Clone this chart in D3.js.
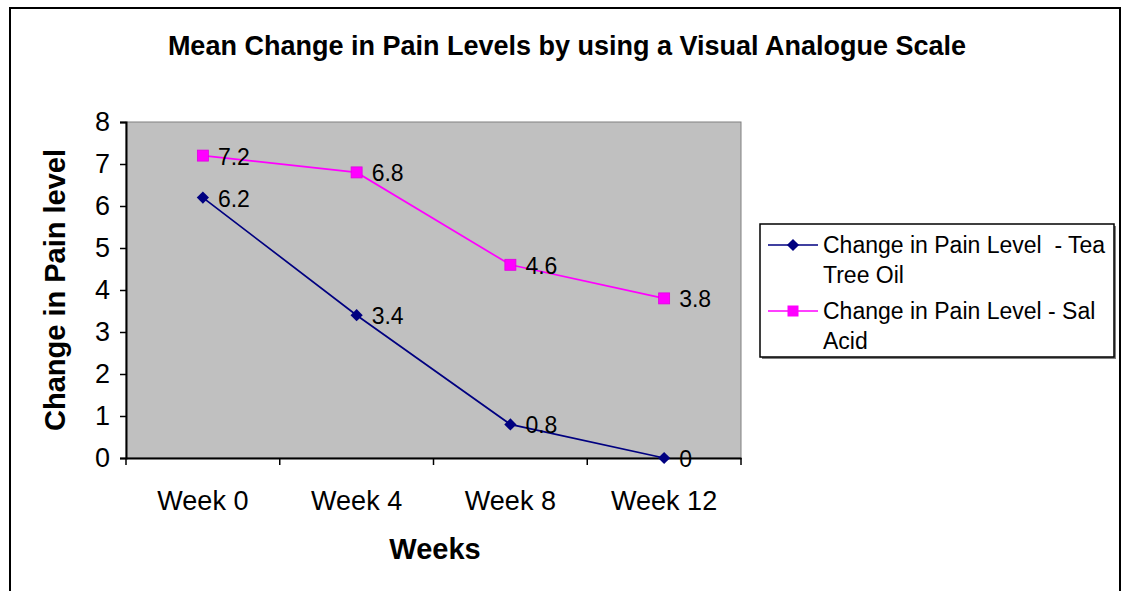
<!DOCTYPE html>
<head>
  <meta charset="UTF-8">
  <title>pain</title>
  <style>
  body{ margin:0; background:#fff; }
  svg{ display:block; font-family: "Liberation Sans", Arial, sans-serif; }
  </style>
</head>
<body>
  <script src="https://cdn.jsdelivr.net/npm/d3@7"></script>
  <script type="text/javascript">
  var weeks = ['Week 0', 'Week 4', 'Week 8', 'Week 12'];
  var teaTree = [6.2, 3.4, 0.8, 0];
  var salAcid = [7.2, 6.8, 4.6, 3.8];
  var yTicks = [0, 1, 2, 3, 4, 5, 6, 7, 8];
  var seriesNames = ['Change in Pain Level  - Tea Tree Oil', 'Change in Pain Level - Sal Acid'];

  var width = 1124, height = 591;
  var svg = d3.select('body').append('svg')
    .attr('width', width)
    .attr('height', height);

  // chart frame
  svg.append('rect')
    .attr('x', 10).attr('y', 8)
    .attr('width', 1110).attr('height', 600)
    .attr('fill', '#fff').attr('stroke', '#000').attr('stroke-width', 2);

  var plot = {left: 126, right: 741, top: 122, bottom: 458};

  var x = d3.scaleBand().domain(weeks).range([plot.left, plot.right]);
  var y = d3.scaleLinear().domain([0, 8]).range([plot.bottom, plot.top]);

  svg.append('rect')
    .attr('x', plot.left).attr('y', plot.top)
    .attr('width', plot.right - plot.left).attr('height', plot.bottom - plot.top)
    .attr('fill', '#c0c0c0').attr('stroke', '#808080').attr('stroke-width', 1);

  // axes
  var yAxis = svg.append('g')
    .attr('transform', 'translate(' + plot.left + ',0)')
    .call(d3.axisLeft(y).tickValues(yTicks).tickSize(6).tickPadding(10).tickFormat(d3.format('d')));
  yAxis.select('.domain').attr('stroke', '#000').attr('stroke-width', 2);
  yAxis.selectAll('.tick line').attr('stroke', '#000').attr('stroke-width', 1.5);
  yAxis.selectAll('text').attr('font-size', 27).attr('fill', '#000');

  var xAxis = svg.append('g')
    .attr('transform', 'translate(0,' + plot.bottom + ')')
    .call(d3.axisBottom(x).tickSize(0).tickPadding(33));
  xAxis.select('.domain').attr('stroke', '#000').attr('stroke-width', 2);
  xAxis.selectAll('text').attr('font-size', 27).attr('fill', '#000');

  // category boundary ticks
  svg.selectAll('.xtick')
    .data(d3.range(weeks.length + 1))
    .enter().append('line')
    .attr('x1', function(i){ return plot.left + i * x.step(); })
    .attr('x2', function(i){ return plot.left + i * x.step(); })
    .attr('y1', plot.bottom)
    .attr('y2', plot.bottom + 7)
    .attr('stroke', '#000').attr('stroke-width', 1.5);

  var line = d3.line()
    .x(function(d, i){ return x(weeks[i]) + x.bandwidth() / 2; })
    .y(function(d){ return y(d); });

  // sal acid
  svg.append('path').datum(salAcid)
    .attr('d', line).attr('fill', 'none')
    .attr('stroke', '#ff00ff').attr('stroke-width', 1.7);
  svg.selectAll('.sq').data(salAcid).enter().append('rect')
    .attr('x', function(d, i){ return x(weeks[i]) + x.bandwidth() / 2 - 5.5; })
    .attr('y', function(d){ return y(d) - 5.5; })
    .attr('width', 11).attr('height', 11)
    .attr('fill', '#ff00ff').attr('stroke', '#e000e0').attr('stroke-width', 0.8);

  // tea tree
  svg.append('path').datum(teaTree)
    .attr('d', line).attr('fill', 'none')
    .attr('stroke', '#000080').attr('stroke-width', 1.7);
  svg.selectAll('.dm').data(teaTree).enter().append('path')
    .attr('d', d3.symbol().type(d3.symbolDiamond2).size(95))
    .attr('transform', function(d, i){ return 'translate(' + (x(weeks[i]) + x.bandwidth() / 2) + ',' + y(d) + ')'; })
    .attr('fill', '#000080');

  // data labels
  function labels(data){
    svg.append('g').selectAll('text').data(data).enter().append('text')
      .attr('x', function(d, i){ return x(weeks[i]) + x.bandwidth() / 2 + 15; })
      .attr('y', function(d){ return y(d) + 9; })
      .attr('font-size', 23).attr('fill', '#000')
      .text(function(d){ return d; });
  }
  labels(salAcid);
  labels(teaTree);

  // titles
  svg.append('text').attr('x', 567).attr('y', 55)
    .attr('text-anchor', 'middle').attr('font-size', 27).attr('font-weight', 'bold')
    .text('Mean Change in Pain Levels by using a Visual Analogue Scale');
  svg.append('text').attr('x', 435).attr('y', 559)
    .attr('text-anchor', 'middle').attr('font-size', 29).attr('font-weight', 'bold')
    .text('Weeks');
  svg.append('text')
    .attr('transform', 'translate(65,290) rotate(-90)')
    .attr('text-anchor', 'middle').attr('font-size', 29).attr('font-weight', 'bold')
    .text('Change in Pain level');

  // legend
  var lg = svg.append('g');
  lg.append('rect').attr('x', 762).attr('y', 226).attr('width', 354).attr('height', 133).attr('fill', '#808080');
  lg.append('rect').attr('x', 760).attr('y', 224).attr('width', 354).attr('height', 133)
    .attr('fill', '#fff').attr('stroke', '#000').attr('stroke-width', 1.5);

  var legendRows = [
    {color: '#000080', lines: ['Change in Pain Level  - Tea', 'Tree Oil'], y: 245},
    {color: '#ff00ff', lines: ['Change in Pain Level - Sal', 'Acid'], y: 311}
  ];
  legendRows.forEach(function(r, k){
    lg.append('line').attr('x1', 768).attr('x2', 818).attr('y1', r.y).attr('y2', r.y)
      .attr('stroke', r.color).attr('stroke-width', 1.7);
    if (k === 0) {
      lg.append('path').attr('d', d3.symbol().type(d3.symbolDiamond2).size(95))
        .attr('transform', 'translate(793,' + r.y + ')').attr('fill', r.color);
    } else {
      lg.append('rect').attr('x', 787.5).attr('y', r.y - 5.5).attr('width', 11).attr('height', 11).attr('fill', r.color);
    }
    var t = lg.append('text').attr('x', 823).attr('y', r.y + 8).attr('font-size', 23).attr('fill', '#000');
    r.lines.forEach(function(s, j){
      t.append('tspan').attr('x', 823).attr('dy', j === 0 ? 0 : 30).attr('xml:space', 'preserve').text(s);
    });
  });
  </script>
</body>
</html>
